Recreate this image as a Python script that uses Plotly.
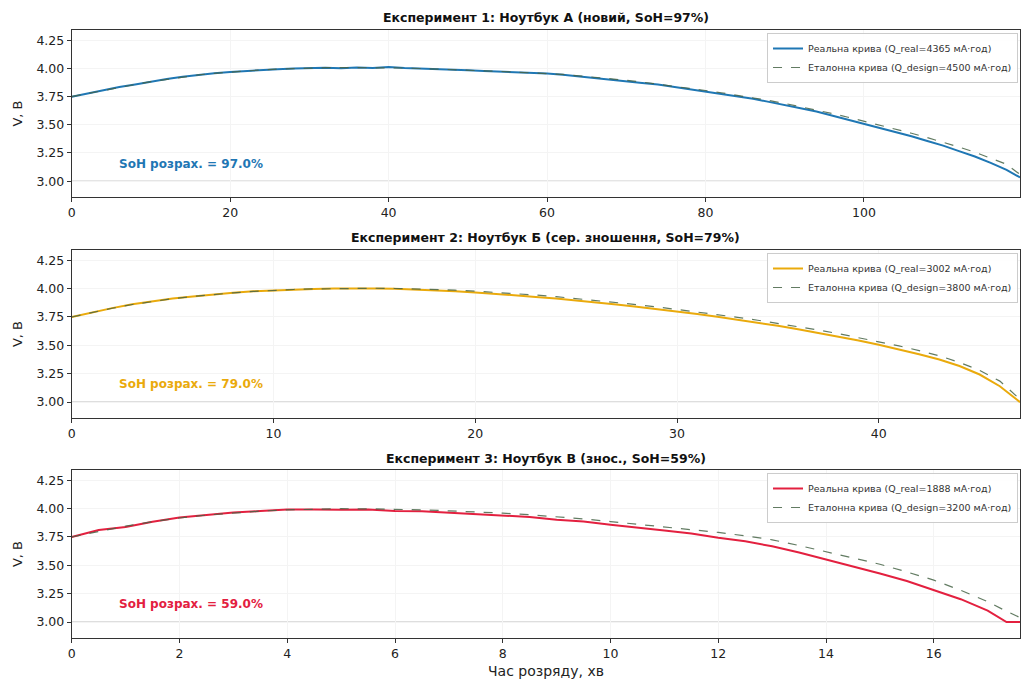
import plotly.graph_objects as go

# ---------------- data ----------------
titles = [
    "Експеримент 1: Ноутбук А (новий, SoH=97%)",
    "Експеримент 2: Ноутбук Б (сер. зношення, SoH=79%)",
    "Експеримент 3: Ноутбук В (знос., SoH=59%)",
]
q_real = [4365, 3002, 1888]
q_design = [4500, 3800, 3200]
soh_calc = [97.0, 79.0, 59.0]
x_max = [119.7, 47.0, 17.6]
x_dtick = [20, 10, 2]

# Experiment 1
t1 = [0, 2, 4, 6, 8, 10, 12, 14, 16, 18, 20, 22, 24, 26, 28, 30, 32, 34, 36, 38, 40,
      42, 44, 46, 48, 50, 52, 54, 56, 58, 60, 62, 64, 66, 68, 70, 72, 74, 76, 78, 80,
      82, 84, 86, 88, 90, 92, 94, 96, 98, 100, 102, 104, 106, 108, 110, 112, 114, 116, 118, 119.7]
v1_real = [3.748, 3.778, 3.806, 3.834, 3.857, 3.884, 3.905, 3.926, 3.944, 3.957, 3.968,
           3.978, 3.987, 3.993, 3.999, 4.004, 4.006, 4.002, 4.008, 4.004, 4.011,
           4.003, 3.999, 3.994, 3.987, 3.984, 3.976, 3.972, 3.963, 3.959, 3.954,
           3.944, 3.930, 3.919, 3.903, 3.890, 3.871, 3.856, 3.835, 3.817, 3.795,
           3.776, 3.752, 3.730, 3.703, 3.678, 3.647, 3.618, 3.582, 3.549, 3.511,
           3.476, 3.436, 3.399, 3.356, 3.315, 3.267, 3.219, 3.163, 3.101, 3.033]
v1_design = [3.750, 3.778, 3.806, 3.832, 3.857, 3.882, 3.904, 3.925, 3.942, 3.956, 3.968,
             3.978, 3.987, 3.994, 4.000, 4.004, 4.006, 4.007, 4.007, 4.006, 4.005,
             4.003, 3.999, 3.995, 3.990, 3.985, 3.979, 3.973, 3.967, 3.961, 3.956,
             3.946, 3.934, 3.922, 3.908, 3.894, 3.878, 3.861, 3.843, 3.824, 3.804,
             3.784, 3.762, 3.739, 3.715, 3.689, 3.661, 3.632, 3.600, 3.567, 3.533,
             3.498, 3.462, 3.425, 3.386, 3.346, 3.303, 3.257, 3.207, 3.150, 3.060]

# Experiment 2
t2 = [0, 1, 2, 3, 4, 5, 6, 7, 8, 9, 10, 11, 12, 13, 14, 15, 16, 17, 18, 19, 20, 21, 22, 23,
      24, 25, 26, 27, 28, 29, 30, 31, 32, 33, 34, 35, 36, 37, 38, 39, 40, 41, 42, 43, 44,
      45, 46, 47]
v2_real = [3.750, 3.792, 3.828, 3.862, 3.888, 3.912, 3.931, 3.949, 3.963, 3.976, 3.984,
           3.992, 3.996, 4.000, 4.003, 4.001, 3.998, 3.992, 3.986, 3.976, 3.966,
           3.955, 3.942, 3.927, 3.912, 3.896, 3.879, 3.860, 3.840, 3.820, 3.798,
           3.776, 3.751, 3.726, 3.700, 3.672, 3.642, 3.611, 3.578, 3.543, 3.505,
           3.465, 3.422, 3.375, 3.318, 3.243, 3.140, 3.000]
v2_design = [3.750, 3.790, 3.827, 3.860, 3.887, 3.911, 3.931, 3.948, 3.963, 3.975, 3.985,
             3.992, 3.997, 4.001, 4.003, 4.003, 4.001, 3.998, 3.993, 3.986, 3.978,
             3.968, 3.956, 3.943, 3.929, 3.913, 3.896, 3.878, 3.859, 3.839, 3.817,
             3.795, 3.771, 3.747, 3.721, 3.694, 3.665, 3.635, 3.603, 3.569, 3.533,
             3.495, 3.454, 3.408, 3.350, 3.280, 3.185, 3.025]

# Experiment 3
t3 = [0, 0.5, 1, 1.5, 2, 2.5, 3, 3.5, 4, 4.5, 5, 5.5, 6, 6.5, 7, 7.5, 8, 8.5, 9, 9.5, 10,
      10.5, 11, 11.5, 12, 12.5, 13, 13.5, 14, 14.5, 15, 15.5, 16, 16.5, 17, 17.35, 17.6]
v3_real = [3.750, 3.812, 3.838, 3.884, 3.921, 3.942, 3.966, 3.978, 3.991, 3.993, 3.989,
           3.992, 3.979, 3.976, 3.963, 3.956, 3.938, 3.926, 3.902, 3.886, 3.858,
           3.836, 3.808, 3.781, 3.743, 3.712, 3.668, 3.614, 3.553, 3.492, 3.428,
           3.362, 3.282, 3.202, 3.102, 3.000, 3.000]
v3_design = [3.750, 3.800, 3.845, 3.884, 3.917, 3.943, 3.963, 3.978, 3.989, 3.996, 3.999,
             3.998, 3.995, 3.989, 3.980, 3.971, 3.960, 3.946, 3.930, 3.909, 3.886,
             3.863, 3.840, 3.816, 3.790, 3.760, 3.725, 3.675, 3.620, 3.566, 3.510,
             3.442, 3.370, 3.280, 3.180, 3.095, 3.040]

series_t = [t1, t2, t3]
series_real = [v1_real, v2_real, v3_real]
series_design = [v1_design, v2_design, v3_design]
colors = ["#1f77b4", "#eaaa0c", "#e3203f"]
design_color = "rgba(70,100,70,0.85)"

y_ticks = [3.00, 3.25, 3.50, 3.75, 4.00, 4.25]
y_range = [2.86, 4.34]

# ---------------- layout geometry (pixels -> paper) ----------------
W, H = 1022, 679
x_dom = [68 / W, 1020 / W]
panels_px = [(30, 197), (250, 418), (470, 638)]
y_doms = [[1 - b / H, 1 - t / H] for t, b in panels_px]
title_y_px = [17, 238, 458]
legend_top_px = [33, 253, 473]

fig = go.Figure()
annotations = []
shapes = []
font_family = "DejaVu Sans"

for i in range(3):
    n = i + 1
    xa = "x" if n == 1 else f"x{n}"
    ya = "y" if n == 1 else f"y{n}"
    leg = "legend" if n == 1 else f"legend{n}"
    fig.add_trace(go.Scatter(
        x=series_t[i], y=series_real[i], mode="lines",
        line=dict(color=colors[i], width=2),
        name=f"Реальна крива (Q_real={q_real[i]} мА·год)",
        xaxis=xa, yaxis=ya, legend=leg,
    ))
    fig.add_trace(go.Scatter(
        x=series_t[i], y=series_design[i], mode="lines",
        line=dict(color=design_color, width=1.2, dash="dash"),
        name=f"Еталонна крива (Q_design={q_design[i]} мА·год)",
        xaxis=xa, yaxis=ya, legend=leg,
    ))
    axis_common = dict(
        showline=True, linecolor="#333333", linewidth=1, mirror=True,
        ticks="outside", ticklen=4, tickcolor="#333333",
        showgrid=True, gridcolor="#f4f4f4", zeroline=False,
        tickfont=dict(family=font_family, size=12.5, color="#222222"),
    )
    fig.layout[f"xaxis{n if n > 1 else ''}"] = dict(
        domain=x_dom, anchor=ya, range=[0, x_max[i]], dtick=x_dtick[i], tick0=0,
        **axis_common,
    )
    fig.layout[f"yaxis{n if n > 1 else ''}"] = dict(
        domain=y_doms[i], anchor=xa, range=y_range, tickvals=y_ticks,
        tickformat=".2f",
        title=dict(text="V, В", font=dict(family=font_family, size=13, color="#222222"),
                   standoff=10),
        **axis_common,
    )
    fig.layout[leg] = dict(
        x=1018 / W, y=1 - legend_top_px[i] / H, xanchor="right", yanchor="top",
        bgcolor="rgba(255,255,255,0.85)", bordercolor="#cccccc", borderwidth=1,
        font=dict(family=font_family, size=9.5, color="#333333"),
        itemwidth=30, tracegroupgap=0,
    )
    # cutoff line at 3.0 V
    shapes.append(dict(
        type="line", xref=f"{xa} domain", yref=ya, x0=0, x1=1, y0=3.0, y1=3.0,
        line=dict(color="#aaaaaa", width=1), layer="below",
    ))
    # title
    annotations.append(dict(
        text=f"<b>{titles[i]}</b>", xref="paper", yref="paper",
        x=(x_dom[0] + x_dom[1]) / 2, y=1 - title_y_px[i] / H,
        xanchor="center", yanchor="middle", showarrow=False,
        font=dict(family=font_family, size=12.5, color="#111111"),
    ))
    # SoH text
    annotations.append(dict(
        text=f"<b>SoH розрах. = {soh_calc[i]:.1f}%</b>",
        xref=f"{xa} domain", yref=f"{ya} domain", x=0.048, y=0.2,
        xanchor="left", yanchor="middle", showarrow=False,
        font=dict(family=font_family, size=12, color=colors[i]),
    ))

annotations.append(dict(
    text="Час розряду, хв", xref="paper", yref="paper",
    x=(x_dom[0] + x_dom[1]) / 2, y=1 - 671 / H, xanchor="center", yanchor="middle",
    showarrow=False, font=dict(family=font_family, size=14, color="#222222"),
))

fig.update_layout(
    width=W, height=H,
    margin=dict(l=0, r=0, t=0, b=0),
    paper_bgcolor="white", plot_bgcolor="white",
    annotations=annotations, shapes=shapes,
    showlegend=True,
)

fig.write_html(
    "out.html",
    config={"displayModeBar": False},
    post_script="document.body.style.margin='0';document.body.style.overflow='hidden';",
)
